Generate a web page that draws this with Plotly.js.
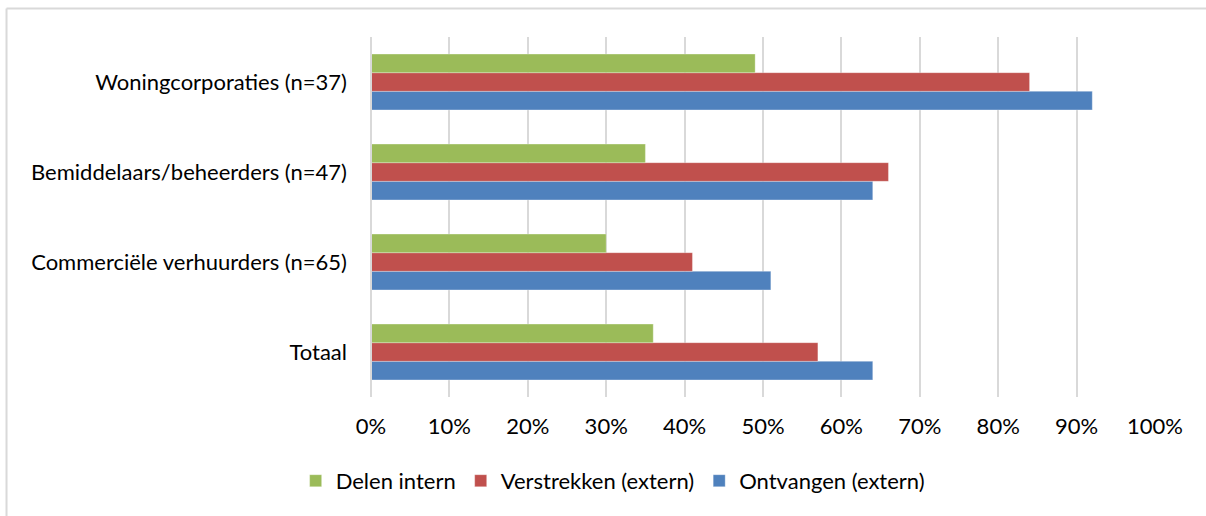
<!DOCTYPE html>
<html><head><meta charset="utf-8">
<script src="https://cdn.plot.ly/plotly-3.0.1.min.js"></script>
<style>html,body{margin:0;padding:0;background:#fff;overflow:hidden}#chart{width:1206px;height:516px}</style>
</head><body><div id="chart"></div>
<script>
// categories listed bottom to top
const categories = ["Totaal", "Commerciële verhuurders (n=65)", "Bemiddelaars/beheerders (n=47)", "Woningcorporaties (n=37)"];
const ontvangen = [0.64, 0.51, 0.64, 0.92];
const verstrekken = [0.57, 0.41, 0.66, 0.84];
const delenIntern = [0.36, 0.30, 0.35, 0.49];
const xTickVals = [0, 0.1, 0.2, 0.3, 0.4, 0.5, 0.6, 0.7, 0.8, 0.9, 1.0];
const xTickText = ["0%", "10%", "20%", "30%", "40%", "50%", "60%", "70%", "80%", "90%", "100%"];

const FONT = "Lato, 'Open Sans', sans-serif";
function tr(name, vals, color) {
  return {type: "bar", orientation: "h", name: name, y: categories, x: vals,
    marker: {color: color, line: {color: "rgba(255,255,255,0.6)", width: 0.5}},
    hoverinfo: "skip"};
}
const data = [
  tr("Ontvangen (extern)", ontvangen, "#4F81BD"),
  tr("Verstrekken (extern)", verstrekken, "#C0504D"),
  tr("Delen intern", delenIntern, "#9BBB59")
];
const layout = {
  width: 1206, height: 516,
  margin: {l: 371, r: 51, t: 37, b: 119},
  paper_bgcolor: "#fff", plot_bgcolor: "#fff",
  barmode: "group", bargap: 0.38, bargroupgap: 0,
  font: {family: FONT, size: 22, color: "#000"},
  showlegend: true,
  legend: {orientation: "h", traceorder: "reversed", xref: "container", yref: "container",
    x: 0.508, xanchor: "center", y: 0.068, yanchor: "middle", font: {family: FONT, size: 22, color: "#000"},
    itemwidth: 30, tracegroupgap: 0},
  xaxis: {range: [0, 1], tickvals: xTickVals, ticktext: xTickText, showgrid: true,
    gridcolor: "#D9D9D9", gridwidth: 2, zeroline: false, showline: false, ticks: "",
    ticklabelstandoff: 14, fixedrange: true},
  yaxis: {type: "category", categoryorder: "array", categoryarray: categories,
    showgrid: false, zeroline: false, showline: false, ticks: "", ticklabelstandoff: 23, fixedrange: true},
  shapes: [
    {type: "line", xref: "paper", yref: "paper", x0: 0, x1: 0, y0: 0, y1: 1, line: {color: "#D9D9D9", width: 2}},
    {type: "line", xref: "paper", yref: "paper", x0: -0.4649, x1: -0.4649, y0: -0.34, y1: 1.0792, line: {color: "#D9D9D9", width: 2}},
    {type: "line", xref: "paper", yref: "paper", x0: -0.4649, x1: 1.07, y0: 1.0792, y1: 1.0792, line: {color: "#D9D9D9", width: 2}}
  ]
};
Plotly.newPlot("chart", data, layout, {staticPlot: true, displayModeBar: false});
</script></body></html>
